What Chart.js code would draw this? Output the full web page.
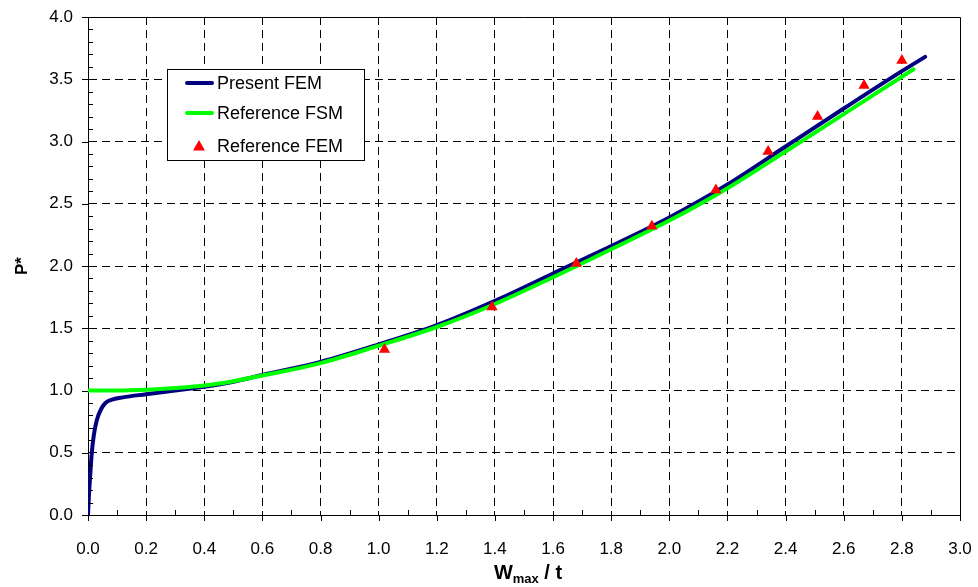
<!DOCTYPE html>
<html>
<head>
<meta charset="utf-8">
<script src="https://cdn.jsdelivr.net/npm/chart.js@4.4.0/dist/chart.umd.min.js"></script>
<style>
  html, body { margin: 0; padding: 0; background: #fff; }
  #wrap { width: 978px; height: 587px; }
</style>
</head>
<body>
<div id="wrap"><canvas id="c" width="978" height="587"></canvas></div>
<script>
// Present FEM (navy curve)
const presentX = [0, 0.003, 0.007, 0.013, 0.02, 0.03, 0.045, 0.06, 0.08, 0.12, 0.2, 0.3, 0.4, 0.5, 0.6, 0.8, 1.0, 1.2, 1.4, 1.6, 1.8, 2.0, 2.2, 2.4, 2.6, 2.8, 2.88];
const presentY = [0, 0.15, 0.3, 0.5, 0.64, 0.76, 0.85, 0.9, 0.925, 0.945, 0.97, 1.0, 1.03, 1.07, 1.125, 1.23, 1.37, 1.525, 1.72, 1.94, 2.16, 2.39, 2.655, 2.96, 3.265, 3.565, 3.68];

// Reference FSM (green curve)
const fsmX = [0, 0.1, 0.2, 0.3, 0.4, 0.5, 0.6, 0.8, 1.0, 1.2, 1.4, 1.6, 1.8, 2.0, 2.2, 2.4, 2.6, 2.8, 2.84];
const fsmY = [1.0, 1.0, 1.006, 1.02, 1.04, 1.075, 1.12, 1.22, 1.36, 1.51, 1.695, 1.91, 2.135, 2.365, 2.625, 2.92, 3.22, 3.52, 3.58];

// Reference FEM (red triangles)
const femX = [1.02, 1.39, 1.68, 1.94, 2.16, 2.34, 2.51, 2.67, 2.80];
const femY = [1.33, 1.67, 2.02, 2.32, 2.61, 2.92, 3.20, 3.45, 3.65];

const legendLabels = ['Present FEM', 'Reference FSM', 'Reference FEM'];
const xTitle = ['W', 'max', ' / t'];
const yTitle = 'P*';

const FONT = '"Liberation Sans", Arial, sans-serif';
const NAVY = '#000080';
const GREEN = '#00FF00';
const RED = '#FF0000';

function pts(xs, ys) {
  return xs.map((x, i) => ({ x: x, y: ys[i] }));
}

// frame, tick marks, axis titles and the boxed legend
const decorations = {
  id: 'decorations',
  afterDraw(chart) {
    const ctx = chart.ctx;
    const a = chart.chartArea;
    const xs = chart.scales.x;
    const ys = chart.scales.y;
    ctx.save();
    ctx.strokeStyle = '#000';
    ctx.lineWidth = 1;

    // top and right frame
    ctx.beginPath();
    ctx.moveTo(a.left, a.top + 0.5);
    ctx.lineTo(a.right + 0.5, a.top + 0.5);
    ctx.lineTo(a.right + 0.5, a.bottom);
    ctx.stroke();

    // x ticks
    ctx.beginPath();
    for (let i = 0; i <= 30; i++) {
      const px = Math.round(xs.getPixelForValue(i / 10)) + 0.5;
      if (i % 2 === 0) {
        ctx.moveTo(px, a.bottom);
        ctx.lineTo(px, a.bottom + 6);
      } else {
        ctx.moveTo(px, a.bottom);
        ctx.lineTo(px, a.bottom - 5);
      }
    }
    // y ticks
    for (let i = 0; i <= 40; i++) {
      const py = Math.round(ys.getPixelForValue(i / 10)) + 0.5;
      if (i % 5 === 0) {
        ctx.moveTo(a.left - 6, py);
        ctx.lineTo(a.left, py);
      } else {
        ctx.moveTo(a.left, py);
        ctx.lineTo(a.left + 5, py);
      }
    }
    ctx.stroke();

    // x title with subscript
    ctx.fillStyle = '#000';
    ctx.textBaseline = 'alphabetic';
    ctx.textAlign = 'left';
    const big = 'bold 20px ' + FONT;
    const small = 'bold 13px ' + FONT;
    ctx.font = big;
    const w0 = ctx.measureText(xTitle[0]).width;
    const w2 = ctx.measureText(xTitle[2]).width;
    ctx.font = small;
    const w1 = ctx.measureText(xTitle[1]).width;
    const total = w0 + w1 + w2;
    let tx = (a.left + a.right) / 2 + 4 - total / 2;
    const base = 579;
    ctx.font = big;
    ctx.fillText(xTitle[0], tx, base);
    tx += w0;
    ctx.font = small;
    ctx.fillText(xTitle[1], tx, base + 4);
    tx += w1;
    ctx.font = big;
    ctx.fillText(xTitle[2], tx, base);

    // y title
    ctx.save();
    ctx.translate(22, (a.top + a.bottom) / 2);
    ctx.rotate(-Math.PI / 2);
    ctx.textAlign = 'center';
    ctx.textBaseline = 'middle';
    ctx.font = 'bold 17px ' + FONT;
    ctx.fillText(yTitle, 0, 0);
    ctx.restore();

    // legend box
    const lx = a.left + 79, ly = a.top + 52, lw = 197, lh = 91;
    ctx.fillStyle = '#fff';
    ctx.fillRect(lx, ly, lw, lh);
    ctx.strokeStyle = '#000';
    ctx.lineWidth = 1;
    ctx.strokeRect(lx + 0.5, ly + 0.5, lw, lh);
    const rows = [ly + 14, ly + 44, ly + 77];
    ctx.lineWidth = 4;
    ctx.lineCap = 'round';
    ctx.strokeStyle = NAVY;
    ctx.beginPath(); ctx.moveTo(lx + 20, rows[0]); ctx.lineTo(lx + 45, rows[0]); ctx.stroke();
    ctx.strokeStyle = GREEN;
    ctx.beginPath(); ctx.moveTo(lx + 20, rows[1]); ctx.lineTo(lx + 45, rows[1]); ctx.stroke();
    ctx.fillStyle = RED;
    ctx.beginPath();
    const cx = lx + 32, cy = rows[2];
    ctx.moveTo(cx, cy - 6); ctx.lineTo(cx + 6, cy + 4.5); ctx.lineTo(cx - 6, cy + 4.5); ctx.closePath();
    ctx.fill();
    ctx.fillStyle = '#000';
    ctx.font = '18px ' + FONT;
    ctx.textAlign = 'left';
    ctx.textBaseline = 'middle';
    legendLabels.forEach((t, i) => ctx.fillText(t, lx + 50, rows[i] + 1));
    ctx.restore();
  }
};

new Chart(document.getElementById('c'), {
  type: 'scatter',
  data: {
    datasets: [
      {
        label: legendLabels[2],
        data: pts(femX, femY),
        showLine: false,
        pointStyle: 'triangle',
        pointRadius: 6.5,
        backgroundColor: RED,
        borderColor: RED,
        borderWidth: 0
      },
      {
        label: legendLabels[1],
        data: pts(fsmX, fsmY),
        showLine: true,
        borderColor: GREEN,
        borderWidth: 4,
        pointRadius: 0,
        cubicInterpolationMode: 'monotone',
        borderCapStyle: 'round'
      },
      {
        label: legendLabels[0],
        data: pts(presentX, presentY),
        showLine: true,
        borderColor: NAVY,
        borderWidth: 4,
        pointRadius: 0,
        cubicInterpolationMode: 'monotone',
        borderCapStyle: 'round'
      }
    ]
  },
  options: {
    responsive: false,
    animation: false,
    events: [],
    layout: { padding: { left: 0, top: 17, right: 18, bottom: 0 } },
    plugins: { legend: { display: false }, tooltip: { enabled: false } },
    scales: {
      x: {
        type: 'linear',
        min: 0,
        max: 3,
        afterFit(s) { s.height = 72; s.paddingLeft = 0; s.paddingRight = 0; },
        ticks: {
          stepSize: 0.2,
          padding: 24,
          color: '#000',
          font: { family: FONT, size: 17 },
          callback: v => v.toFixed(1)
        },
        grid: {
          drawTicks: false,
          color: c => (c.tick.value > 2.9 || Math.abs(c.tick.value) < 1e-6) ? 'rgba(0,0,0,0)' : '#000',
          lineWidth: 1
        },
        border: { display: true, color: '#000', width: 1, dash: [8, 5] }
      },
      y: {
        type: 'linear',
        min: 0,
        max: 4,
        afterFit(s) { s.width = 88; s.paddingTop = 0; s.paddingBottom = 0; },
        ticks: {
          stepSize: 0.5,
          padding: 15,
          color: '#000',
          font: { family: FONT, size: 17 },
          callback: v => v.toFixed(1)
        },
        grid: {
          drawTicks: false,
          color: c => (c.tick.value > 3.9 || Math.abs(c.tick.value) < 1e-6) ? 'rgba(0,0,0,0)' : '#000',
          lineWidth: 1
        },
        border: { display: true, color: '#000', width: 1, dash: [8, 5] }
      }
    }
  },
  plugins: [decorations]
});
</script>
</body>
</html>
